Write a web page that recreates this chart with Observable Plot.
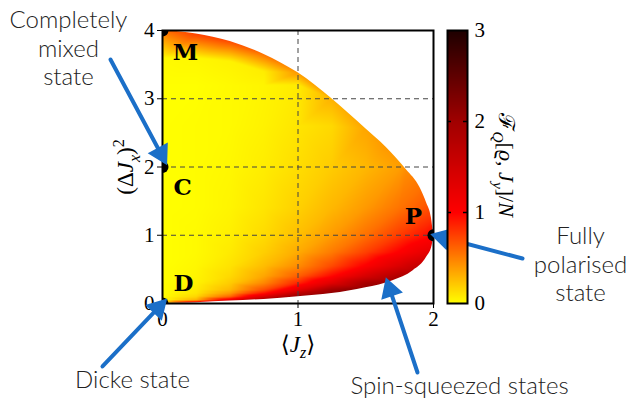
<!DOCTYPE html>
<html><head><meta charset="utf-8">
<script src="https://cdn.jsdelivr.net/npm/d3@7"></script>
<script src="https://cdn.jsdelivr.net/npm/@observablehq/plot@0.6"></script>
<style>
html,body{margin:0;padding:0;background:#fff;}
#wrap{position:relative;width:631px;height:400px;overflow:hidden;background:#fff;}
#wrap svg{position:absolute;left:0;top:0;}
</style></head><body><div id="wrap"></div>
<script>
// ---- axis ticks ----
const xTicks = [0, 1, 2];
const yTicks = [0, 1, 2, 3, 4];
const cbTicks = [0, 1, 2, 3];
const cbInnerTicks = [1, 2];
const gridLinesX = [1];
const gridLinesY = [1, 2, 3];

// ---- region boundaries ----
const upperX = [0, 0.25, 0.5, 0.75, 1, 1.25, 1.5, 1.65, 1.8, 1.9, 1.95, 1.985, 2];
const upperY = [4, 3.95, 3.84, 3.65, 3.38, 3.0, 2.56, 2.29, 1.96, 1.7, 1.47, 1.25, 1];
const upperF = [0.55, 0.75, 0.7, 0.55, 0.4, 0.3, 0.35, 0.4, 0.45, 0.55, 0.65, 0.8, 1.0];
const lowerX = [0, 0.25, 0.5, 0.75, 1, 1.25, 1.5, 1.7, 1.85, 1.95, 1.99, 2];
const lowerY = [0, 0.012, 0.035, 0.06, 0.1, 0.145, 0.23, 0.335, 0.48, 0.68, 0.85, 1];
const lowerF = [0.0, 1.3, 1.7, 1.95, 2.1, 2.15, 2.1, 1.95, 1.7, 1.4, 1.15, 1.0];
const nearTopX = [0, 0.25, 0.5, 0.75];
const nearTopY = [3.6, 3.6, 3.55, 3.4];
const nearTopF = [0.02, 0.03, 0.05, 0.07];
// values just outside the region (hidden), so the field covers the frame
const outsideX = [1, 2, 2, 2, 2, 2, 1.5, 1, 0.5];
const outsideY = [4, 4, 2.5, 1.7, 0.6, 0, 0, 0, 0];
const outsideF = [0.4, 0.4, 0.45, 0.6, 1.3, 1.5, 2.1, 2.1, 1.7];

// ---- interior F_Q/N values (rows = fieldX, columns = fieldY) ----
const fieldX = [0, 0.25, 0.5, 0.75, 1, 1.25, 1.5, 1.75, 1.9];
const fieldY = [0.05, 0.1, 0.15, 0.2, 0.3, 0.4, 0.55, 0.75, 1, 1.4, 2, 2.6, 3.2];
const fieldF = [
  [0, 0, 0, 0, 0, 0, 0, 0, 0, 0, 0, 0, 0],
  [0.31, 0.16, 0.10, 0.08, 0.05, 0.04, 0.03, 0.02, 0.02, 0.01, 0.01, 0.01, 0],
  [1.2, 0.6, 0.4, 0.28, 0.2, 0.15, 0.11, 0.08, 0.06, 0.04, 0.03, 0.02, 0.02],
  [null, 1.4, 0.94, 0.7, 0.47, 0.35, 0.26, 0.19, 0.14, 0.1, 0.07, 0.05, 0.04],
  [null, null, 1.7, 1.28, 0.85, 0.63, 0.45, 0.33, 0.25, 0.18, 0.13, 0.1, 0.08],
  [null, null, null, 1.98, 1.32, 0.98, 0.71, 0.52, 0.39, 0.28, 0.2, 0.15, null],
  [null, null, null, null, 1.92, 1.43, 1.02, 0.75, 0.56, 0.4, 0.28, null, null],
  [null, null, null, null, null, 1.85, 1.39, 1.02, 0.77, 0.55, 0.38, null, null],
  [null, null, null, null, null, null, null, 1.2, 0.9, 0.64, null, null, null]
];

// ---- special states ----
const stateNames = ["M", "C", "D", "P"];
const stateX = [0, 0, 0, 2];
const stateY = [4, 2, 0, 1];
const stateLabelX = [0.17, 0.148, 0.155, 1.852];
const stateLabelY = [3.68, 1.70, 0.29, 1.275];

// ---- annotations ----
const annText = ["Completely\nmixed\nstate", "Fully\npolarised\nstate", "Spin-squeezed states", "Dicke state"];
const annX = [-0.694, 3.085, 2.192, -0.221];
const annY = [3.75, 0.586, -1.20, -1.10];
const arrX1 = [-0.384, 2.657, 1.882, -0.443];
const arrY1 = [3.575, 0.659, -1.011, -0.923];
const arrX2 = [0.015, 2.015, 1.661, 0.007];
const arrY2 = [2.095, 0.996, 0.308, 0.015];

// ---- labels ----
const xLabel = "⟨*J*_{z}⟩";
const yLabel = "(Δ*J*_{x})^{2}";
const cbLabel = "ℱ_{Q}[*ϱ*, *J*_{y}]/*N*";
const cbColors = ["#ffff00", "#ff0000", "#a00000", "#1e0000"];

// ---- build tables ----
const pts = [];
fieldX.forEach((x, i) => fieldY.forEach((y, j) => { const f = fieldF[i][j]; if (f != null) pts.push({x, y, f}); }));
upperX.forEach((x, i) => pts.push({x, y: upperY[i], f: upperF[i]}));
lowerX.forEach((x, i) => pts.push({x, y: lowerY[i], f: lowerF[i]}));
nearTopX.forEach((x, i) => pts.push({x, y: nearTopY[i], f: nearTopF[i]}));
outsideX.forEach((x, i) => pts.push({x, y: outsideY[i], f: outsideF[i]}));
const upper = upperX.map((x, i) => ({x, y: upperY[i]}));
const lower = lowerX.map((x, i) => ({x, y: lowerY[i]}));
const states = stateNames.map((n, i) => ({n, x: stateX[i], y: stateY[i], lx: stateLabelX[i], ly: stateLabelY[i]}));
const anns = annText.map((t, i) => ({t, x: annX[i], y: annY[i]}));
const arrows = arrX1.map((x, i) => ({x1: x, y1: arrY1[i], x2: arrX2[i], y2: arrY2[i]}));

const colorOpts = {type: "linear", domain: [0, 3], interpolate: d3.piecewise(d3.interpolateRgb, cbColors), clamp: true};
const serif = "Liberation Serif, DejaVu Serif, serif";
const sans = "Lato, Liberation Sans, sans-serif";
const blue = "#1b6fc8";
const fmt = d => String(d);
const headR = 7.5;

function buildMain(heads) {
  return Plot.plot({
    width: 631, height: 400,
    marginLeft: 162, marginRight: 198, marginTop: 30, marginBottom: 97,
    x: {domain: [0, 2]},
    y: {domain: [0, 4]},
    color: colorOpts,
    style: {fontFamily: serif, fontSize: "21px", background: "transparent", overflow: "visible", color: "black"},
    marks: [
      Plot.raster(pts, {x: "x", y: "y", fill: "f", interpolate: "barycentric", x1: 0, x2: 2, y1: 0, y2: 4}),
      Plot.areaY(upper, {x: "x", y1: "y", y2: () => 4.02, fill: "white", curve: "monotone-x"}),
      Plot.areaY(lower, {x: "x", y1: () => -0.02, y2: "y", fill: "white", curve: "monotone-x"}),
      Plot.gridX(gridLinesX, {stroke: "#444", strokeOpacity: 1, strokeWidth: 1, strokeDasharray: "5,4"}),
      Plot.gridY(gridLinesY, {stroke: "#444", strokeOpacity: 1, strokeWidth: 1, strokeDasharray: "5,4"}),
      Plot.axisX({ticks: xTicks, tickFormat: fmt, tickSize: 5, tickPadding: 3, fontSize: 21, label: null, fontFamily: serif}),
      Plot.axisY({ticks: yTicks, tickFormat: fmt, tickSize: 5, tickPadding: 3, fontSize: 21, label: null, fontFamily: serif}),
      Plot.frame({stroke: "black", strokeWidth: 2}),
      Plot.dot(states, {x: "x", y: "y", r: 6, fill: "black", clip: true}),
      Plot.text(states, {x: "lx", y: "ly", text: "n", fontFamily: "DejaVu Serif", fontWeight: "bold", fontSize: 23, fill: "black"}),
      Plot.text([xLabel], {x: () => 1, y: () => -0.6, text: d => d, fontFamily: serif, fontSize: 23, fill: "black"}),
      Plot.text([yLabel], {x: () => -0.27, y: () => 2, text: d => d, rotate: -90, fontFamily: serif, fontSize: 23, fill: "black"}),
      Plot.arrow(arrows, {x1: "x1", y1: "y1", x2: "x2", y2: "y2", stroke: blue, strokeWidth: 4, headLength: heads ? 0 : 17, headAngle: 75}),
      heads ? Plot.dot(heads, {x: "x", y: "y", symbol: "triangle", r: headR, rotate: "a", fill: blue, stroke: blue, strokeWidth: 1.5}) : null,
      Plot.text(anns, {x: "x", y: "y", text: "t", fontFamily: sans, fontWeight: 300, fontSize: 24, lineHeight: 1.18, fill: "#222"})
    ]
  });
}

// first pass: get the scales, then place filled triangular arrow heads
const probe = buildMain(null);
const sx = probe.scale("x"), sy = probe.scale("y");
const tipBack = headR * Math.sqrt(Math.PI) * 0.877 * 2 / 3 * 1.0; // centroid-to-tip distance of the triangle symbol
const heads = arrows.map(a => {
  const px1 = sx.apply(a.x1), py1 = sy.apply(a.y1), px2 = sx.apply(a.x2), py2 = sy.apply(a.y2);
  const L = Math.hypot(px2 - px1, py2 - py1);
  const k = tipBack / L;
  return {
    x: a.x2 - (a.x2 - a.x1) * k,
    y: a.y2 - (a.y2 - a.y1) * k,
    a: Math.atan2(px2 - px1, -(py2 - py1)) * 180 / Math.PI
  };
});
const main = buildMain(heads);

const cb = Plot.plot({
  width: 631, height: 400,
  marginLeft: 447, marginRight: 164, marginTop: 30, marginBottom: 97,
  x: {domain: [0, 1], axis: null},
  y: {domain: [0, 3]},
  color: colorOpts,
  style: {fontFamily: serif, fontSize: "21px", background: "transparent", overflow: "visible", color: "black"},
  marks: [
    Plot.raster({x1: 0, x2: 1, y1: 0, y2: 3, fill: (x, y) => y}),
    Plot.ruleY(cbInnerTicks, {x1: () => 0, x2: () => 0.2, stroke: "black", strokeWidth: 1.5}),
    Plot.ruleY(cbInnerTicks, {x1: () => 0.8, x2: () => 1, stroke: "black", strokeWidth: 1.5}),
    Plot.frame({stroke: "black", strokeWidth: 2}),
    Plot.axisY({anchor: "right", ticks: cbTicks, tickFormat: fmt, tickSize: 0, tickPadding: 7, fontSize: 21, label: null, fontFamily: serif}),
    Plot.text([cbLabel], {x: () => 2.95, y: () => 1.52, text: d => d, rotate: 90, fontFamily: serif, fontSize: 22, fill: "black"})
  ]
});

const wrap = document.getElementById("wrap");
wrap.appendChild(main);
wrap.appendChild(cb);

// rich text: *italic*, _{sub}, ^{sup}
function richify(svg) {
  const ns = "http://www.w3.org/2000/svg";
  svg.querySelectorAll("text").forEach(t => {
    const s = t.textContent;
    if (!/[_^*]/.test(s) || t.querySelector("tspan")) return;
    const fs = parseFloat(getComputedStyle(t).fontSize) || 22;
    while (t.firstChild) t.removeChild(t.firstChild);
    let shift = 0;
    const add = (txt, italic, kind) => {
      if (!txt) return;
      const ts = document.createElementNS(ns, "tspan");
      const target = kind === "sub" ? fs * 0.28 : kind === "sup" ? -fs * 0.42 : 0;
      const d = target - shift;
      if (d !== 0) ts.setAttribute("dy", d.toFixed(2));
      shift = target;
      if (kind) ts.setAttribute("font-size", (fs * 0.7).toFixed(1));
      if (italic) ts.setAttribute("font-style", "italic");
      ts.textContent = txt;
      t.appendChild(ts);
    };
    let i = 0, buf = "", italic = false;
    while (i < s.length) {
      const c = s[i];
      if (c === "*") { add(buf, italic, null); buf = ""; italic = !italic; i++; }
      else if ((c === "_" || c === "^") && s[i + 1] === "{") {
        add(buf, italic, null); buf = "";
        const end = s.indexOf("}", i);
        add(s.slice(i + 2, end), c === "_", c === "_" ? "sub" : "sup");
        i = end + 1;
      } else { buf += c; i++; }
    }
    add(buf, italic, null);
  });
}
richify(main);
richify(cb);
</script></body></html>
